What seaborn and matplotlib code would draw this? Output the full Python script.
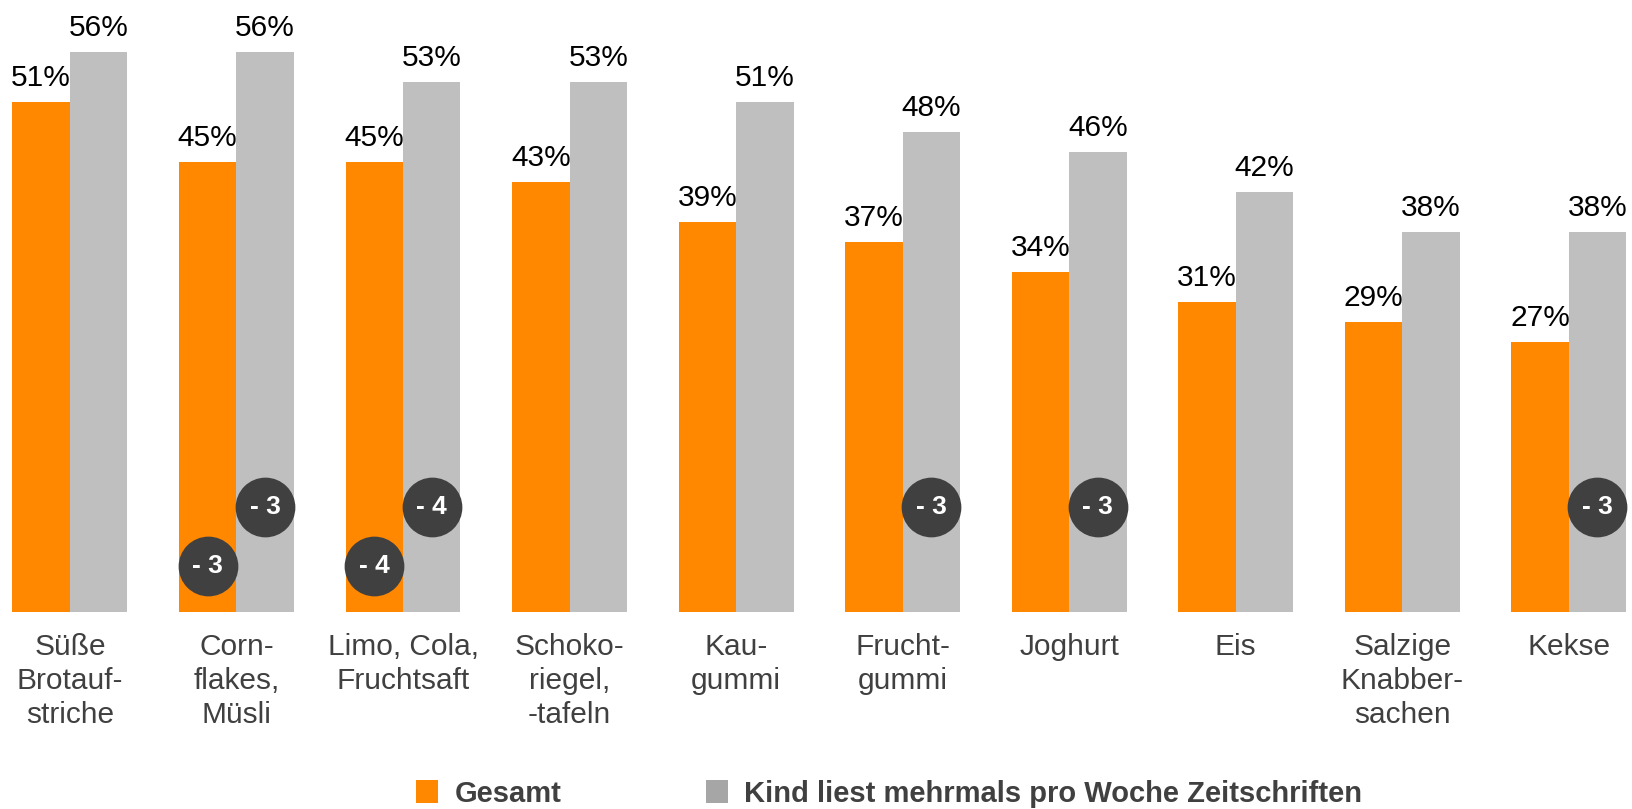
import pandas as pd
import numpy as np
import matplotlib
matplotlib.use("Agg")
import matplotlib.pyplot as plt
from matplotlib.patches import Patch
import seaborn as sns

# data
categories = ["Süße\nBrotauf-\nstriche", "Corn-\nflakes,\nMüsli", "Limo, Cola,\nFruchtsaft",
              "Schoko-\nriegel,\n-tafeln", "Kau-\ngummi", "Frucht-\ngummi", "Joghurt", "Eis",
              "Salzige\nKnabber-\nsachen", "Kekse"]
gesamt = [51, 45, 45, 43, 39, 37, 34, 31, 29, 27]
kind = [56, 56, 53, 53, 51, 48, 46, 42, 38, 38]
series_names = ["Gesamt", "Kind liest mehrmals pro Woche Zeitschriften"]

# difference badges: (category index, series index, text)
badges = [(1, 0, "- 3"), (1, 1, "- 3"), (2, 0, "- 4"), (2, 1, "- 4"),
          (5, 1, "- 3"), (6, 1, "- 3"), (9, 1, "- 3")]

orange = "#FF8800"
grey = "#BFBFBF"
dark = "#404040"

df = pd.DataFrame({
    "cat": categories * 2,
    "val": gesamt + kind,
    "series": [series_names[0]] * len(categories) + [series_names[1]] * len(categories),
})

sns.set_style("white")
plt.rcParams["font.family"] = ["Liberation Sans", "DejaVu Sans"]

fig = plt.figure(figsize=(16.32, 8.09), dpi=100)
ax = fig.add_axes([0, 197 / 809, 1, 612 / 809])

sns.barplot(data=df, x="cat", y="val", hue="series", palette=[orange, grey],
            width=0.69, saturation=1, legend=False, ax=ax, linewidth=0)

for cont in ax.containers:
    ax.bar_label(cont, fmt="%d%%", padding=7, fontsize=21.5, color="black")

# badges
bw = 0.69 / 2
badge_y = [4.6, 10.5]
for i, s, txt in badges:
    x = i + (s - 0.5) * bw
    ax.scatter([x], [badge_y[s]], s=1850, color=dark, zorder=5, linewidths=0)
    ax.text(x, badge_y[s], txt, color="white", fontsize=19, fontweight="bold",
            ha="center", va="center", zorder=6)

ax.set_xlim(-0.42, 9.38)
ax.set_ylim(0, 61.2)
ax.set_xlabel("")
ax.set_ylabel("")
ax.set_yticks([])
ax.tick_params(axis="x", length=0, pad=15, labelsize=21.5, labelcolor=dark)
for lbl in ax.get_xticklabels():
    lbl.set_linespacing(1.27)
sns.despine(ax=ax, left=True, bottom=True)

handles = [Patch(facecolor=orange, edgecolor="none"), Patch(facecolor="#A6A6A6", edgecolor="none")]
fig.legend(handles, series_names, loc="lower left", bbox_to_anchor=(415 / 1632, 0.0),
           ncol=2, frameon=False, borderpad=0, borderaxespad=0.05,
           handlelength=0.75, handleheight=0.85, handletextpad=0.55, columnspacing=4.95,
           prop={"size": 21, "weight": "bold"}, labelcolor=dark)

fig.savefig("out.png", dpi=100)
